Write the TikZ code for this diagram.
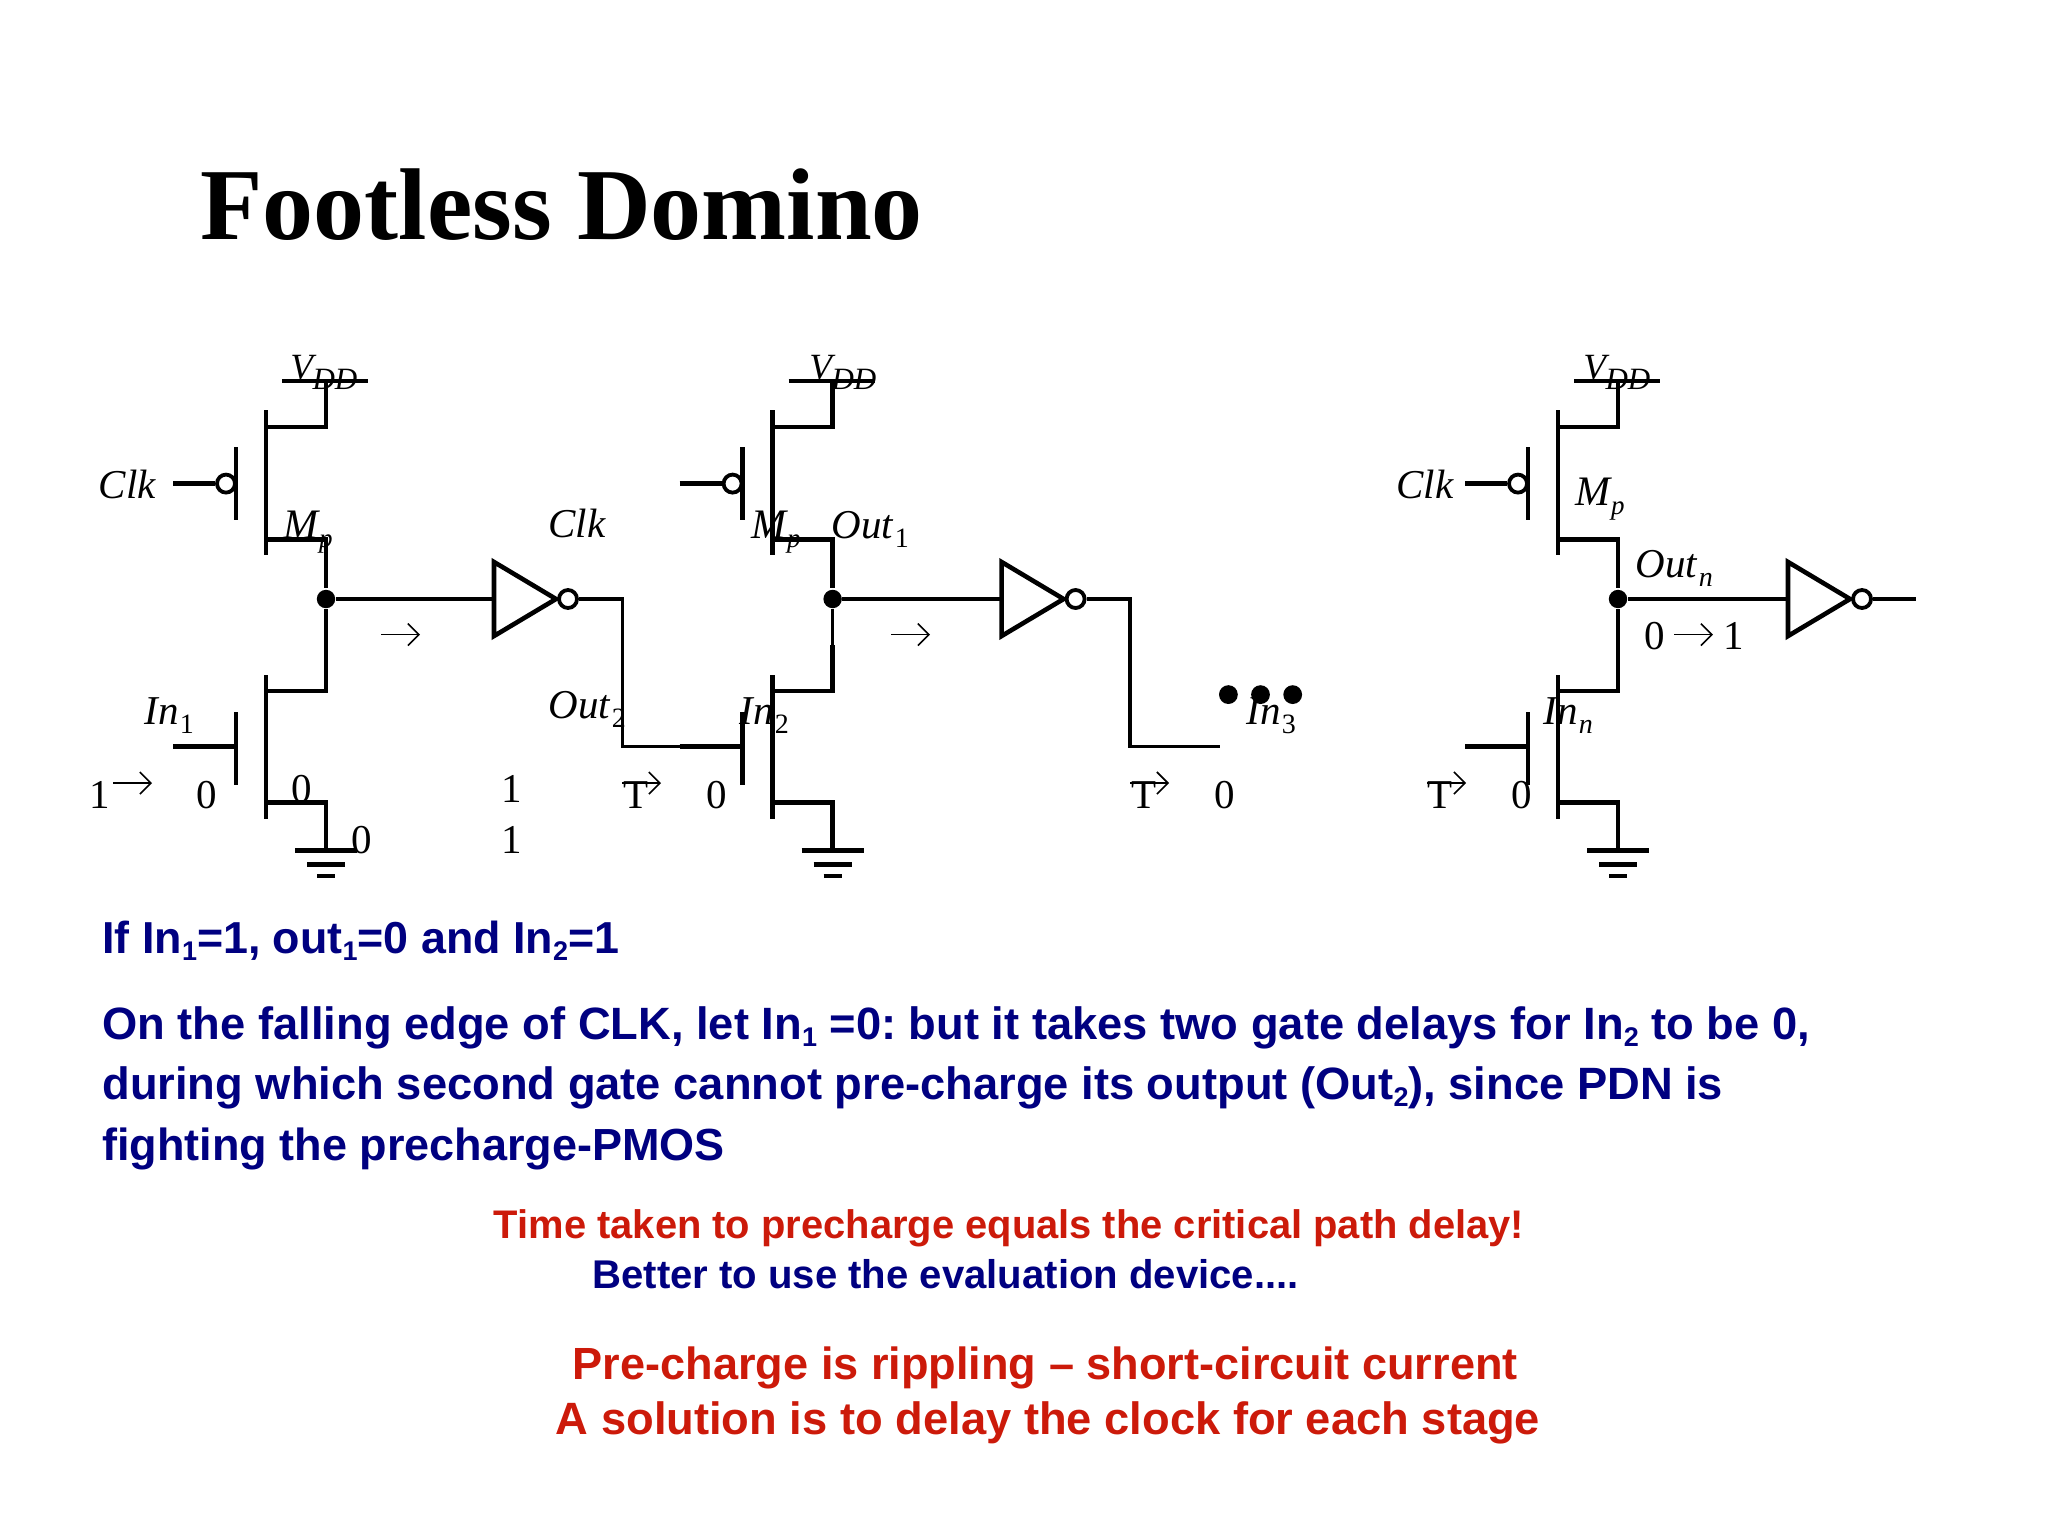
\documentclass[tikz,border=0pt]{standalone}
\usepackage{fontspec}
\usetikzlibrary{arrows.meta}
\setmainfont{Liberation Serif}
\newfontfamily\arfont{Liberation Sans}
\frenchspacing
\definecolor{navytxt}{RGB}{0,0,128}
\definecolor{redtxt}{RGB}{204,26,10}
\newcommand\fsz[1]{\fontsize{#1}{#1}\selectfont}
\newcommand\slab[2]{\textit{#1}\kern.6pt\raisebox{-4.5pt}{\fsz{14}\textit{#2}}}
\newcommand\mlab[2]{\textit{#1}\kern-.6pt\raisebox{-4.5pt}{\fsz{13.5}\textit{#2}}}
\newcommand\dlab[2]{\textit{#1}\kern.6pt\raisebox{-4.5pt}{\fsz{14}#2}}
\newcommand\vddl{{\fsz{18.5}\textit{V}}\kern-2pt\raisebox{-5pt}{\fsz{15.5}\textit{DD}}}
\newcommand\bsub[1]{\raisebox{-3.5pt}{\fsz{13.5}#1}}
\tikzset{
  thick wire/.style={line width=2.3pt,line cap=butt},
  thin wire/.style={line width=1.6pt},
  bubble/.style={circle,draw,line width=1.9pt,fill=white,minimum size=9pt,inner sep=0pt},
  dotnode/.style={circle,fill=black,minimum size=9.2pt,inner sep=0pt},
  elldot/.style={circle,fill=black,minimum size=9.4pt,inner sep=0pt},
  lab/.style={anchor=base west,inner sep=0pt,font=\fsz{20.5}},
  body/.style={anchor=base west,inner sep=0pt,font=\arfont\bfseries\fsz{22.5},text=navytxt},
  arrowmark/.style={line width=.8pt,-{Straight Barb[length=5.5pt,width=11pt,line width=.8pt]}},
  x=0.5pt,y=-0.5pt
}
\newcommand\markarrow[3]{%
  \coordinate (#1s) at (#2,#3);
  \coordinate (#1e) at (#2+39,#3);
  \draw[arrowmark] (#1s) -- (#1e);
}
\newcommand\stagecirc[2]{%
  \coordinate (#1vl) at (#2+16,381);
  \coordinate (#1vr) at (#2+102,381);
  \coordinate (#1v) at (#2+60,381);
  \coordinate (#1pct) at (#2,410.4);
  \coordinate (#1pcb) at (#2,555.4);
  \coordinate (#1ps) at (#2,426.8);
  \coordinate (#1psr) at (#2+60,426.8);
  \coordinate (#1pgt) at (#2-30,447);
  \coordinate (#1pgb) at (#2-30,519.6);
  \coordinate (#1pd) at (#2,539.3);
  \coordinate (#1pdr) at (#2+60,539.3);
  \coordinate (#1up) at (#2+60,588);
  \coordinate (#1lo) at (#2+60,645);
  \coordinate (#1nct) at (#2,675);
  \coordinate (#1ncb) at (#2,818.6);
  \coordinate (#1nd) at (#2,691);
  \coordinate (#1ndr) at (#2+60,691);
  \coordinate (#1ngt) at (#2-30,712);
  \coordinate (#1ngb) at (#2-30,784.6);
  \coordinate (#1ng) at (#2-30,746.4);
  \coordinate (#1nw) at (#2-93,746.4);
  \coordinate (#1ns) at (#2,802.5);
  \coordinate (#1nsr) at (#2+60,802.5);
  \coordinate (#1g) at (#2+60,850.7);
  \coordinate (#1gal) at (#2+29,850.7);
  \coordinate (#1gar) at (#2+91,850.7);
  \coordinate (#1gbl) at (#2+41,864.3);
  \coordinate (#1gbr) at (#2+79,864.3);
  \coordinate (#1gcl) at (#2+51,876);
  \coordinate (#1gcr) at (#2+69,876);
  \coordinate (#1cw) at (#2-93,483.6);
  \node[dotnode] (#1dot) at (#2+60,599) {};
  \node[bubble] (#1bub) at (#2-40,483.6) {};
  \draw[thin wire] (#1vl) -- (#1vr);
  \draw[thick wire] (#1v) -- (#1psr) -- (#1ps);
  \draw[thick wire] (#1pct) -- (#1pcb);
  \draw[thick wire] (#1pgt) -- (#1pgb);
  \draw[thick wire] (#1cw) -- (#1bub);
  \draw[thick wire] (#1pd) -- (#1pdr) -- (#1up);
  \draw[thin wire] (#1dot) -- (#1lo);
  \draw[thick wire] (#1lo) -- (#1ndr) -- (#1nd);
  \draw[thick wire] (#1nct) -- (#1ncb);
  \draw[thick wire] (#1ngt) -- (#1ngb);
  \draw[thick wire] (#1nw) -- (#1ng);
  \draw[thick wire] (#1ns) -- (#1nsr) -- (#1g);
  \draw[thick wire] (#1gal) -- (#1gar);
  \draw[thick wire] (#1gbl) -- (#1gbr);
  \draw[thick wire] (#1gcl) -- (#1gcr);
}
\newcommand\invcirc[2]{%
  \coordinate (#1il) at (#2,599);
  \coordinate (#1it) at (#2,562);
  \coordinate (#1ib) at (#2,636);
  \coordinate (#1ip) at (#2+62,599);
  \draw[line width=2.3pt,line join=miter] (#1it) -- (#1ip) -- (#1ib) -- cycle;
  \node[bubble] (#1ibub) at (#2+74,599) {};
  \draw[thin wire] (#1dot) -- (#1il);
}
\begin{document}
\begin{tikzpicture}
\useasboundingbox (0,0) rectangle (2048,1536);
\node[anchor=base west,inner sep=0pt,font=\bfseries\fsz{51}] (title) at (200,239.5) {Footless Domino};
% circuit
\stagecirc{a}{266}
\stagecirc{b}{772.6}
\stagecirc{c}{1558}
\invcirc{a}{494}
\invcirc{b}{1001.6}
\invcirc{c}{1788}
\coordinate (aout) at (622.5,599);
\coordinate (aoutd) at (622.5,746.4);
\coordinate (bout) at (1130,599);
\coordinate (boutd) at (1130,746.4);
\coordinate (boute) at (1220,746.4);
\coordinate (coute) at (1915.5,599);
\draw[thin wire] (aibub) -- (aout) -- (aoutd) -- (bnw);
\draw[thin wire] (bibub) -- (bout) -- (boutd) -- (boute);
\draw[thin wire] (cibub) -- (coute);
\node[elldot] (d1) at (1228.4,694.6) {};
\node[elldot] (d2) at (1260.5,694.6) {};
\node[elldot] (d3) at (1292.7,694.6) {};
% stage 1 labels
\node[lab] (l1) at (98.5,498) {\textit{Clk}};
\node[lab] (l2) at (290,379) {\vddl};
\node[lab] (l3) at (283,538) {\fsz{21}\mlab{M}{p}};
\node[lab] (l4) at (548,537) {\textit{Clk}};
\markarrow{l5}{381}{634.6}
\node[lab] (l6) at (144,724) {\dlab{In}{1}};
\node[lab] (l7) at (548,718.6) {\dlab{Out}{2}};
\node[lab] (l8) at (89,808.6) {1};
\markarrow{l9}{113}{783}
\node[lab] (l10) at (196,808.6) {0};
\node[lab] (l11) at (291,802) {0};
\node[lab] (l12) at (501,802.5) {1};
\node[lab] (l13) at (351,853.6) {0};
\node[lab] (l14) at (501,853.6) {1};
\node[lab] (l15) at (623,808.6) {T};
\markarrow{l16}{622}{783}
% stage 2 labels
\node[lab] (m1) at (809,379) {\vddl};
\node[lab] (m2) at (751,538) {\fsz{21}\mlab{M}{p}};
\node[lab] (m3) at (831,538) {\dlab{Out}{1}};
\markarrow{m4}{891}{634.6}
\node[lab] (m5) at (739,724) {\dlab{In}{2}};
\node[lab] (m6) at (706,808.6) {0};
\node[lab] (m7) at (1246,724) {\dlab{In}{3}};
\node[lab] (m8) at (1131,808.6) {T};
\markarrow{m9}{1130}{783}
\node[lab] (m10) at (1214,808.6) {0};
% stage 3 labels
\node[lab] (n1) at (1396,498) {\textit{Clk}};
\node[lab] (n2) at (1583,379) {\vddl};
\node[lab] (n3) at (1575,505) {\fsz{21}\mlab{M}{p}};
\node[lab] (n4) at (1635,577.5) {\slab{Out}{n}};
\node[lab] (n5) at (1644,649) {0};
\markarrow{n6}{1674}{634.6}
\node[lab] (n7) at (1723,649) {1};
\node[lab] (n8) at (1543,724) {\slab{In}{n}};
\node[lab] (n9) at (1427,808.6) {T};
\markarrow{n10}{1427}{783}
\node[lab] (n11) at (1510.6,808.6) {0};
% text
\node[body,font=\arfont\bfseries\fsz{22.4}] (t1) at (102,953) {If In\bsub{1}=1, out\bsub{1}=0 and In\bsub{2}=1};
\node[body,font=\arfont\bfseries\fsz{22.65}] (t2) at (102,1039.6) {On the falling edge of CLK, let In\bsub{1} =0: but it takes two gate delays for In\bsub{2} to be 0,};
\node[body,font=\arfont\bfseries\fsz{22.65}] (t3) at (102,1099.6) {during which second gate cannot pre-charge its output (Out\bsub{2}), since PDN is};
\node[body] (t4) at (102,1160) {fighting the precharge-PMOS};
\node[body,font=\arfont\bfseries\fsz{19.95},text=redtxt] (t5) at (493.5,1238) {Time taken to precharge equals the critical path delay!};
\node[body,font=\arfont\bfseries\fsz{20.05}] (t6) at (592,1288) {Better to use the evaluation device....};
\node[body,font=\arfont\bfseries\fsz{22.55},text=redtxt] (t7) at (572.5,1379) {Pre-charge is rippling – short-circuit current};
\node[body,font=\arfont\bfseries\fsz{22.65},text=redtxt] (t8) at (555.5,1434) {A solution is to delay the clock for each stage};
\end{tikzpicture}
\end{document}
